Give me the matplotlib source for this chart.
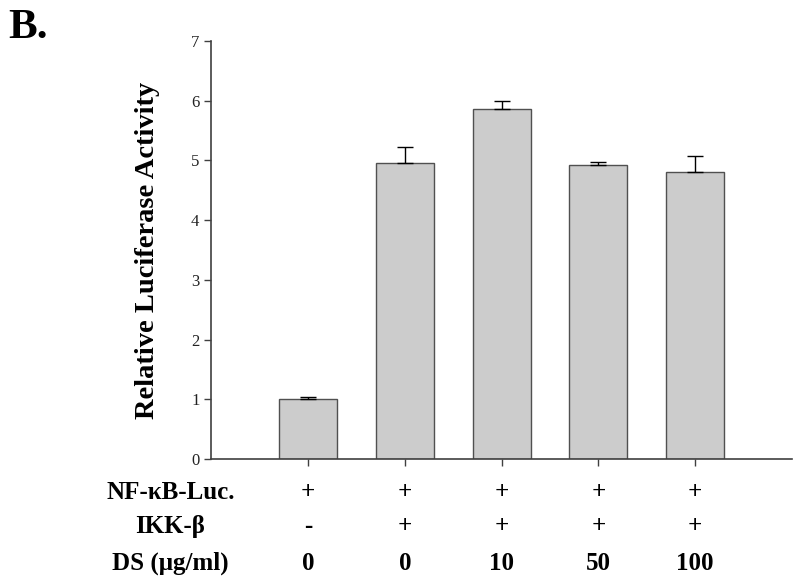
import matplotlib
matplotlib.use('Agg')
import matplotlib.pyplot as plt

# data
means = [1.0, 4.95, 5.86, 4.93, 4.80]
errs = [0.04, 0.27, 0.14, 0.04, 0.27]
nf_row = ['+', '+', '+', '+', '+']
ikk_row = ['-', '+', '+', '+', '+']
ds_row = ['0', '0', '10', '50', '100']
row_names = ['NF-\u03baB-Luc.', 'IKK-\u03b2', 'DS (\u03bcg/ml)']

plt.rcParams['font.family'] = ['Liberation Serif', 'DejaVu Serif']

fig = plt.figure(figsize=(8, 5.85), dpi=100)
ax = fig.add_axes([0.264, 0.215, 0.726, 0.715])

x = list(range(len(means)))
ax.bar(x, means, width=0.6, color='#cccccc', edgecolor='#505050', linewidth=1.0, zorder=2)
ax.errorbar(x, means, yerr=[[0] * len(errs), errs], fmt='none', ecolor='black',
            elinewidth=1.0, capsize=6, capthick=1.0, zorder=3)

ax.set_xlim(-1, 5)
ax.set_ylim(0, 7)
ax.set_yticks(range(0, 8))
ax.set_xticks(x)
ax.set_xticklabels([])
for s in ['top', 'right']:
    ax.spines[s].set_visible(False)
for s in ['left', 'bottom']:
    ax.spines[s].set_color('#404040')
    ax.spines[s].set_linewidth(1.2)
ax.tick_params(axis='both', direction='out', length=5, width=1.0, color='#404040',
               labelsize=12, labelcolor='#222222')
ax.set_ylabel('Relative Luciferase Activity', fontsize=20.5, fontweight='bold', labelpad=22)

fig.text(0.010, 0.985, 'B.', fontsize=31, fontweight='bold', va='top', ha='left')

# condition table under the axis
row_y = [0.158, 0.100, 0.037]
for name, vals, yy in zip(row_names, [nf_row, ikk_row, ds_row], row_y):
    fig.text(0.213, yy, name, fontsize=18, fontweight='bold', ha='center', va='center')
    for xi, v in zip(x, vals):
        xf = ax.transData.transform((xi, 0))[0] / fig.bbox.width
        fig.text(xf, yy, v, fontsize=18, fontweight='bold', ha='center', va='center')

fig.savefig('out.png', dpi=100)
